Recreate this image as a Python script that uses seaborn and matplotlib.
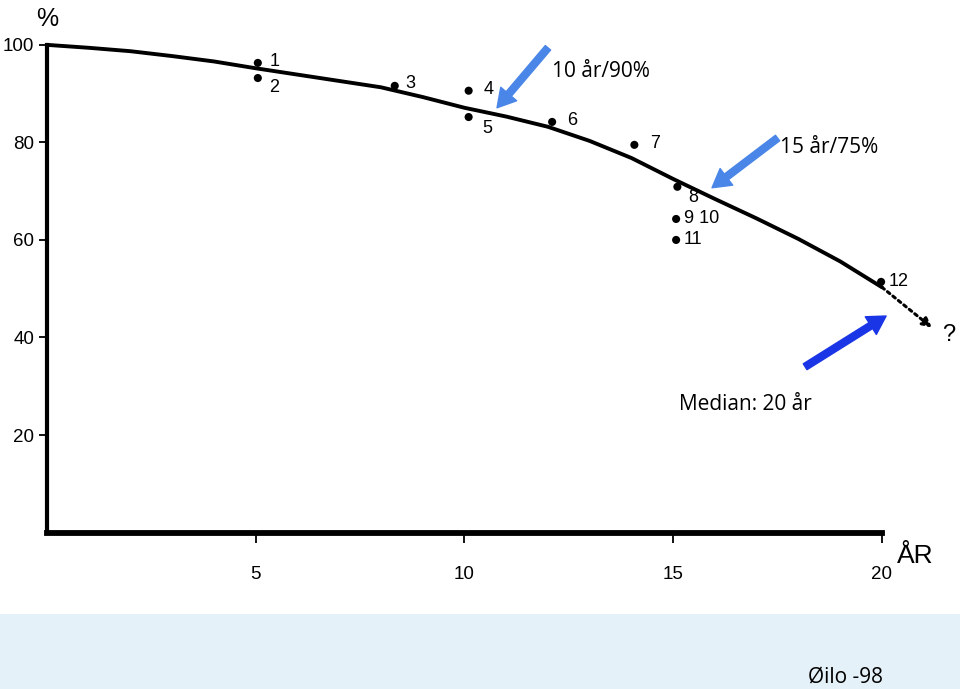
import matplotlib
matplotlib.use("Agg")
import matplotlib.pyplot as plt
import seaborn as sns
import pandas as pd
from matplotlib.patches import Rectangle

# ---- data ----
point_labels = ["1", "2", "3", "4", "5", "6", "7", "8", "9 10", "11", "12"]
point_years = [5.05, 5.05, 8.33, 10.1, 10.1, 12.1, 14.07, 15.1, 15.07, 15.07, 19.98]
point_pct = [96.3, 93.2, 91.6, 90.6, 85.2, 84.2, 79.5, 70.9, 64.3, 60.0, 51.4]

curve_years = [0, 1, 2, 3, 4, 5, 6, 7, 8, 9, 10, 11, 12, 13, 14, 15, 16, 17, 18, 19, 20]
curve_pct = [100, 99.4, 98.7, 97.7, 96.6, 95.2, 93.9, 92.6, 91.3, 89.3, 87.1, 85.3,
             83.2, 80.3, 76.8, 72.5, 68.4, 64.4, 60.2, 55.6, 50.3]

extension_years = [20, 21.2]
extension_pct = [50.3, 42.0]

x_ticks = [5, 10, 15, 20]
y_ticks = [20, 40, 60, 80, 100]

notes = ["10 år/90%", "15 år/75%", "Median: 20 år"]

# ---- styling / layout ----
sns.set_theme(style="white")
plt.rcParams["font.family"] = ["Liberation Sans", "DejaVu Sans"]
plt.rcParams["text.color"] = "black"

W, H = 960, 689
fig = plt.figure(figsize=(W / 100, H / 100), dpi=100, facecolor="white")
band_h = 75 / H
fig.patches.append(Rectangle((0, 0), 1, band_h, transform=fig.transFigure,
                             facecolor="#e4f1f8", edgecolor="none", zorder=0))

ax = fig.add_axes([47 / W, band_h, 1 - 47 / W, 1 - band_h])
ax.set_facecolor("white")
ax.set_xlim(0, 21.87)
ax.set_ylim(-16.7, 109.2)

df_pts = pd.DataFrame({"year": point_years, "pct": point_pct, "label": point_labels})
df_curve = pd.DataFrame({"year": curve_years, "pct": curve_pct})

sns.lineplot(data=df_curve, x="year", y="pct", ax=ax, color="black", lw=2.8,
             sort=False, estimator=None)
sns.scatterplot(data=df_pts, x="year", y="pct", ax=ax, color="black", s=34,
                edgecolor="none", zorder=5)

label_offsets = [(12, 1), (11, -9), (11, 2), (15, 1), (14, -11), (15, 1), (16, 1),
                 (11, -11), (8, 0), (8, 0), (8, 0)]
for lab, xv, yv, off in zip(point_labels, point_years, point_pct, label_offsets):
    ax.annotate(lab, (xv, yv), xytext=off, textcoords="offset pixels",
                ha="left", va="center", fontsize=13, color="black")

# dotted extension with arrow
ax.annotate("", xy=(extension_years[1], extension_pct[1]),
            xytext=(extension_years[0], extension_pct[0]),
            arrowprops=dict(arrowstyle="-|>", linestyle=(0, (1, 1.3)), lw=2.2,
                            color="black", mutation_scale=14, shrinkA=0, shrinkB=0))
ax.text(21.43, 40.5, "?", fontsize=17, ha="left", va="center", color="black")

# spines
for s in ["top", "right"]:
    ax.spines[s].set_visible(False)
ax.spines["left"].set_position(("data", 0))
ax.spines["bottom"].set_position(("data", 0))
ax.spines["left"].set_bounds(0, 100)
ax.spines["bottom"].set_bounds(0, 20)
ax.spines["left"].set_linewidth(3)
ax.spines["bottom"].set_linewidth(4.2)
ax.spines["left"].set_color("black")
ax.spines["bottom"].set_color("black")

ax.set_xticks(x_ticks)
ax.set_xticklabels([str(t) for t in x_ticks])
ax.set_yticks(y_ticks)
ax.set_yticklabels([str(t) for t in y_ticks])
ax.tick_params(axis="x", direction="out", length=7, width=1.3, pad=17,
               labelsize=13.5, bottom=True, colors="black")
ax.tick_params(axis="y", direction="out", length=6, width=1.3, pad=3,
               labelsize=13.5, left=True, colors="black")
ax.set_xlabel("")
ax.set_ylabel("")

ax.text(0, 102.8, "%", fontsize=18, ha="center", va="bottom", color="black")
ax.text(20.35, -4.8, "ÅR", fontsize=19, ha="left", va="center", color="black")

# blue annotation arrows and notes
note_font = ["Open Sans", "DejaVu Sans"]
light_blue = "#4a86e8"
dark_blue = "#1a35e6"
arrow_style = "simple,head_length=0.65,head_width=0.75,tail_width=0.25"
ax.annotate("", xy=(10.78, 87.1), xytext=(12.0, 99.4),
            arrowprops=dict(arrowstyle=arrow_style, color=light_blue, mutation_scale=20,
                            shrinkA=0, shrinkB=0))
ax.annotate("", xy=(15.93, 70.7), xytext=(17.5, 80.9),
            arrowprops=dict(arrowstyle=arrow_style, color=light_blue, mutation_scale=20,
                            shrinkA=0, shrinkB=0))
ax.annotate("", xy=(20.1, 44.4), xytext=(18.16, 34.0),
            arrowprops=dict(arrowstyle=arrow_style, color=dark_blue, mutation_scale=20,
                            shrinkA=0, shrinkB=0))
ax.text(12.1, 94.6, notes[0], fontsize=15, ha="left", va="center", family=note_font,
        color="black")
ax.text(17.55, 78.9, notes[1], fontsize=15, ha="left", va="center", family=note_font,
        color="black")
ax.text(15.15, 26.2, notes[2], fontsize=15, ha="left", va="center", family=note_font,
        color="black")

fig.text(808 / W, 1 - 677 / H, "Øilo -98", fontsize=15, ha="left", va="center",
         family=note_font, color="black")

fig.savefig("out.png", dpi=100, facecolor="white")
